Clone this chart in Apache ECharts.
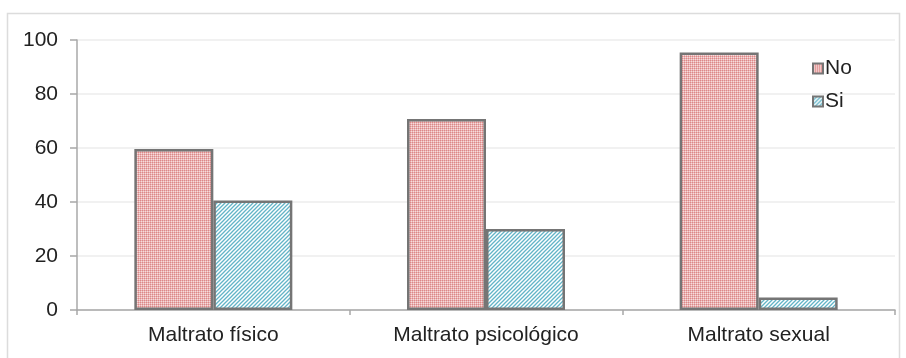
<!DOCTYPE html>
<html>
<head>
<meta charset="utf-8">
<script src="https://cdn.jsdelivr.net/npm/echarts@6/dist/echarts.min.js"></script>
<style>
html,body{margin:0;padding:0;background:#fff;}
#c{width:906px;height:358px;}
</style>
</head>
<body>
<div id="c"></div>
<script>
var categories = ['Maltrato físico', 'Maltrato psicológico', 'Maltrato sexual'];
var seriesNames = ['No', 'Si'];
var noValues = [59.6, 70.7, 95.4];
var siValues = [40.6, 30.0, 4.6];
var yTicks = [0, 20, 40, 60, 80, 100];

function makeDotPattern() {
  var c = document.createElement('canvas');
  c.width = 2; c.height = 2;
  var g = c.getContext('2d');
  g.fillStyle = '#eab2b2'; g.fillRect(0, 0, 2, 2);
  g.fillStyle = '#dc8888'; g.fillRect(0, 0, 1, 1);
  g.fillStyle = '#f6dcdc'; g.fillRect(1, 1, 1, 1);
  return c;
}
function makeStripePattern() {
  var c = document.createElement('canvas');
  c.width = 4; c.height = 4;
  var g = c.getContext('2d');
  g.fillStyle = '#ffffff'; g.fillRect(0, 0, 4, 4);
  g.strokeStyle = '#62b4c7'; g.lineWidth = 1.3;
  g.beginPath();
  g.moveTo(-1, 5); g.lineTo(5, -1);
  g.moveTo(-1, 1); g.lineTo(1, -1);
  g.moveTo(3, 5); g.lineTo(5, 3);
  g.stroke();
  return c;
}

var chart = echarts.init(document.getElementById('c'), null, {renderer: 'canvas'});
var noFill = {image: makeDotPattern(), repeat: 'repeat'};
var siFill = {image: makeStripePattern(), repeat: 'repeat'};
var font = 'Liberation Sans, Arial, sans-serif';

chart.setOption({
  animation: false,
  backgroundColor: '#fff',
  graphic: [{
    type: 'rect', left: 5, top: 11, shape: {width: 892, height: 360},
    style: {fill: 'none', stroke: '#dcdcdc', lineWidth: 1.5}, silent: true, z: -1
  }],
  grid: {left: 77, right: 11, top: 40, bottom: 48, containLabel: false},
  legend: {
    data: seriesNames, orient: 'vertical', left: 807, top: 53,
    itemWidth: 10, itemHeight: 10, itemGap: 12, icon: 'rect',
    textStyle: {fontFamily: font, fontSize: 21, color: '#222', padding: [0, 0, 0, -3]}
  },
  xAxis: {
    type: 'category', data: categories,
    axisLine: {lineStyle: {color: '#a8a8a8', width: 1.5}},
    axisTick: {show: true, length: 5, lineStyle: {color: '#a8a8a8', width: 1.5}},
    axisLabel: {fontFamily: font, fontSize: 21, color: '#222', margin: 15}
  },
  yAxis: {
    type: 'value', min: yTicks[0], max: yTicks[yTicks.length - 1], interval: 20,
    axisLine: {show: true, lineStyle: {color: '#a8a8a8', width: 1.5}},
    axisTick: {show: true, length: 7, lineStyle: {color: '#a8a8a8', width: 1.5}},
    axisLabel: {fontFamily: font, fontSize: 21, color: '#222', margin: 19},
    splitLine: {lineStyle: {color: '#ececec', width: 1.5}}
  },
  series: [
    {name: seriesNames[0], type: 'bar', data: noValues, barWidth: 79, barGap: '0%',
     itemStyle: {color: noFill, borderColor: '#757575', borderWidth: 2.5}},
    {name: seriesNames[1], type: 'bar', data: siValues, barWidth: 79, barGap: '0%',
     itemStyle: {color: siFill, borderColor: '#757575', borderWidth: 2.5}}
  ]
});
</script>
</body>
</html>
